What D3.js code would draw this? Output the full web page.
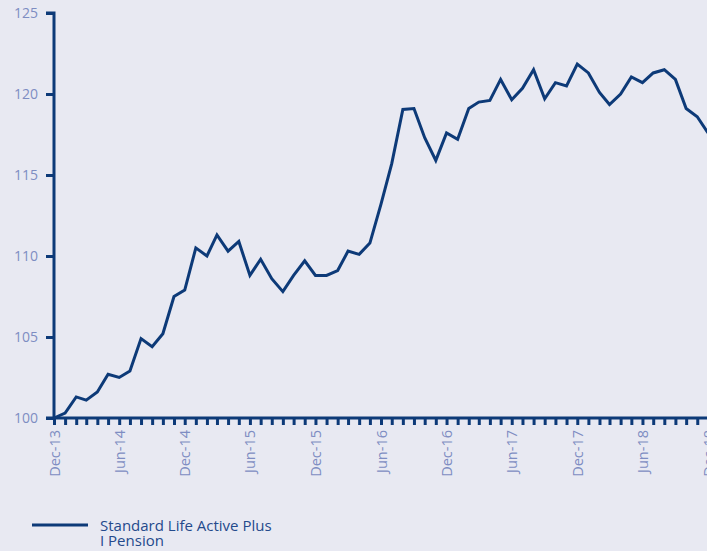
<!DOCTYPE html>
<html>
<head>
<meta charset="utf-8">
<script src="https://cdn.jsdelivr.net/npm/d3@7"></script>
<style>
  html, body { margin: 0; padding: 0; background: #e8e9f2; overflow: hidden; }
  #chart { width: 707px; height: 551px; }
  text { font-family: "Open Sans", "Noto Sans", sans-serif; }
</style>
</head>
<body>
<div id="chart"></div>
<script>
// monthly index values, Dec-13 .. Dec-18
const startMonth = new Date(2013, 11, 1);
const values = [
  100.0, 100.3, 101.3, 101.1, 101.6, 102.7, 102.5, 102.9, 104.9, 104.4,
  105.2, 107.5, 107.9, 110.5, 110.0, 111.3, 110.3, 110.9, 108.8, 109.8,
  108.6, 107.8, 108.8, 109.7, 108.8, 108.8, 109.1, 110.3, 110.1, 110.8,
  113.2, 115.7, 119.05, 119.1, 117.3, 115.9, 117.6, 117.2, 119.1, 119.5,
  119.6, 120.9, 119.65, 120.35, 121.5, 119.7, 120.7, 120.5, 121.85, 121.3,
  120.1, 119.35, 120.0, 121.05, 120.7, 121.3, 121.5, 120.9, 119.1, 118.6,
  117.6
];
const yTicks = [100, 105, 110, 115, 120, 125];
const seriesName = ["Standard Life Active Plus", "I Pension"];

const data = values.map((v, i) => ({ date: d3.timeMonth.offset(startMonth, i), value: v }));

const width = 707;
const height = 551;
const axisColor = "#0d3a78";
const labelColor = "#7e8dc2";

const svg = d3.select("#chart").append("svg")
  .attr("width", width)
  .attr("height", height);

const x = d3.scaleTime()
  .domain(d3.extent(data, d => d.date))
  .range([54, 708]);

const y = d3.scaleLinear()
  .domain([100, 125])
  .range([418, 13]);

// y axis
const yAxis = svg.append("g")
  .attr("transform", "translate(54,0)")
  .call(d3.axisLeft(y).tickValues(yTicks).tickSize(8).tickPadding(8));
yAxis.select(".domain")
  .attr("stroke", axisColor).attr("stroke-width", 3)
  .attr("d", `M-8,${y(125)}H0V${y(100)}`);
yAxis.selectAll(".tick line").attr("stroke", axisColor).attr("stroke-width", 3);
yAxis.selectAll(".tick text")
  .attr("fill", labelColor)
  .attr("font-size", 14)
  .attr("font-family", "'Open Sans', sans-serif");

// x axis: a tick every month, a label every six months
const months = data.map(d => d.date);
const xAxis = svg.append("g")
  .attr("transform", `translate(0,${y(100)})`)
  .call(d3.axisBottom(x).tickValues(months).tickSize(7).tickSizeOuter(0)
    .tickFormat((d, i) => i % 6 === 0 ? d3.timeFormat("%b-%y")(d) : ""));
xAxis.select(".domain").attr("stroke", axisColor).attr("stroke-width", 3)
  .attr("d", `M${x.range()[0] - 8},0H${x.range()[1] + 10}`);
xAxis.selectAll(".tick line").attr("stroke", axisColor).attr("stroke-width", 3);
xAxis.selectAll(".tick text")
  .attr("fill", labelColor)
  .attr("font-size", 14.5)
  .attr("font-family", "'Open Sans', sans-serif")
  .attr("text-anchor", "end")
  .attr("transform", "rotate(-90)")
  .attr("x", -12)
  .attr("y", 0)
  .attr("dy", "0.35em");

// series line
const line = d3.line()
  .x(d => x(d.date))
  .y(d => y(d.value));

svg.append("path")
  .datum(data)
  .attr("fill", "none")
  .attr("stroke", axisColor)
  .attr("stroke-width", 3)
  .attr("stroke-linejoin", "miter")
  .attr("d", line);

// legend
const legend = svg.append("g");
legend.append("line")
  .attr("x1", 32).attr("x2", 88)
  .attr("y1", 525).attr("y2", 525)
  .attr("stroke", axisColor)
  .attr("stroke-width", 3);
legend.selectAll("text")
  .data(seriesName)
  .join("text")
  .attr("x", 100)
  .attr("y", (d, i) => 531 + i * 15)
  .attr("fill", "#244a8c")
  .attr("font-size", 15)
  .text(d => d);
</script>
</body>
</html>
